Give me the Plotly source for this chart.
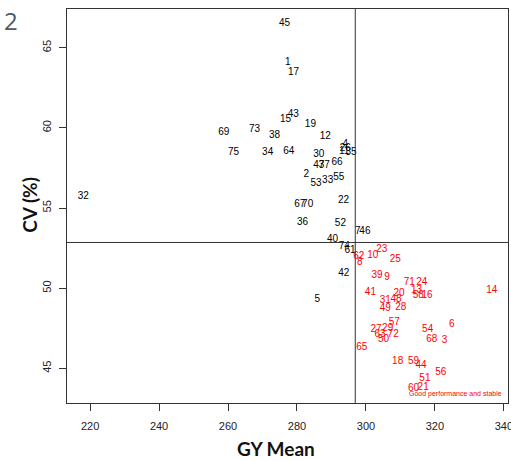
import plotly.graph_objects as go

labels = [1, 2, 4, 5, 7, 11, 12, 15, 17, 19, 22, 26, 30, 32, 33, 34, 35, 36, 37, 38,
          40, 42, 43, 45, 46, 47, 52, 53, 55, 61, 64, 66, 67, 69, 70, 73, 74, 75,
          3, 6, 8, 9, 10, 13, 14, 16, 18, 20, 21, 23, 24, 25, 27, 28, 29, 31, 39,
          41, 44, 48, 49, 50, 51, 54, 56, 57, 58, 59, 60, 62, 63, 65, 68, 71, 72]
gy_mean = [277.3, 282.7, 294.0, 285.9, 297.6, 293.7, 288.2, 276.7, 279.0, 283.9,
           293.5, 294.0, 286.3, 218.0, 288.9, 271.5, 295.7, 281.6, 287.9, 273.5,
           290.3, 293.6, 278.9, 276.4, 299.7, 286.3, 292.6, 285.5, 292.1, 295.4,
           277.6, 291.6, 280.8, 258.8, 283.1, 267.7, 293.7, 261.6,
           322.8, 324.9, 298.2, 306.1, 302.0, 314.7, 336.5, 317.7, 309.2, 309.6,
           316.6, 304.6, 316.2, 308.5, 302.9, 310.1, 306.3, 305.6, 303.2, 301.3,
           316.0, 308.7, 305.6, 305.1, 317.1, 317.9, 321.7, 308.2, 315.2, 313.8,
           313.8, 297.9, 304.1, 298.8, 319.1, 312.6, 307.9]
cv = [64.08, 57.10, 58.94, 49.31, 53.56, 58.50, 59.44, 60.50, 63.48, 60.23,
      55.46, 58.69, 58.31, 55.69, 56.69, 58.44, 58.44, 54.08, 57.63, 59.52,
      53.06, 50.92, 60.86, 66.48, 53.52, 57.63, 54.04, 56.54, 56.92, 52.38,
      58.52, 57.86, 55.21, 59.73, 55.21, 59.88, 52.63, 58.44,
      46.71, 47.73, 51.58, 50.67, 52.02, 49.87, 49.83, 49.52, 45.44, 49.67,
      43.83, 52.44, 50.33, 51.81, 47.44, 48.77, 47.50, 49.25, 50.81, 49.73,
      45.17, 49.31, 48.73, 46.79, 44.35, 47.42, 44.73, 47.84, 49.56, 45.44,
      43.75, 52.00, 47.13, 46.29, 46.81, 50.35, 47.13]

mean_gy = 296.9
mean_cv = 52.85

x_ticks = [220, 240, 260, 280, 300, 320, 340]
y_ticks = [45, 50, 55, 60, 65]

colors = ["#FF0000" if (x > mean_gy and y < mean_cv) else "#000000"
          for x, y in zip(gy_mean, cv)]

fig = go.Figure()
fig.add_trace(go.Scatter(
    x=gy_mean, y=cv, mode="text", text=[str(l) for l in labels],
    textposition="middle center",
    textfont=dict(family="Liberation Sans, Arial", size=10, color=colors),
    hoverinfo="skip", showlegend=False, cliponaxis=True,
))

line_c = "#333333"
fig.add_shape(type="line", xref="x", yref="y domain", x0=mean_gy, x1=mean_gy, y0=0, y1=1,
              line=dict(color=line_c, width=1))
fig.add_shape(type="line", xref="x domain", yref="y", x0=0, x1=1, y0=mean_cv, y1=mean_cv,
              line=dict(color=line_c, width=1))

fig.add_annotation(x=339.9, y=43.38, xref="x", yref="y", text="Good performance and stable",
                   showarrow=False, xanchor="right", yanchor="middle",
                   font=dict(family="Liberation Sans, Arial", size=7, color="#FF0000"))

fig.add_annotation(x=-0.128, y=1.018, xref="paper", yref="paper", text="2",
                   showarrow=False, xanchor="center", yanchor="top",
                   font=dict(family="Open Sans", size=24, color="#4A5A70"))

title_font = dict(family="Lato", size=19, color="#111111")
fig.add_annotation(x=0.474, y=-0.115, xref="paper", yref="paper", text="<b>GY Mean</b>",
                   showarrow=False, xanchor="center", yanchor="middle", font=title_font)
fig.add_annotation(x=-0.084, y=0.503, xref="paper", yref="paper", text="<b>CV (%)</b>",
                   showarrow=False, xanchor="center", yanchor="middle", textangle=-90,
                   font=title_font)

axis_font = dict(family="Liberation Sans, Arial", size=11, color="#222222")
fig.update_xaxes(range=[213.3, 341.2], tickvals=x_ticks, ticks="outside", ticklen=7,
                 tickcolor=line_c, showline=True, linecolor=line_c, linewidth=1, mirror=True,
                 showgrid=False, zeroline=False, tickfont=axis_font, automargin=False,
                 ticklabelstandoff=6, ticklabeloverflow="allow")
fig.update_yaxes(range=[42.84, 67.41], tickvals=y_ticks, ticks="outside", ticklen=7,
                 tickcolor=line_c, showline=True, linecolor=line_c, linewidth=1, mirror=True,
                 showgrid=False, zeroline=False, tickfont=axis_font, tickangle=-90,
                 automargin=False, ticklabelstandoff=4, ticklabeloverflow="allow")

fig.update_layout(width=511, height=461, margin=dict(l=67, r=3, t=9, b=58),
                  plot_bgcolor="white", paper_bgcolor="white")

fig.write_html("out.html", post_script="document.body.style.margin='0';",
               config={"displayModeBar": False})
